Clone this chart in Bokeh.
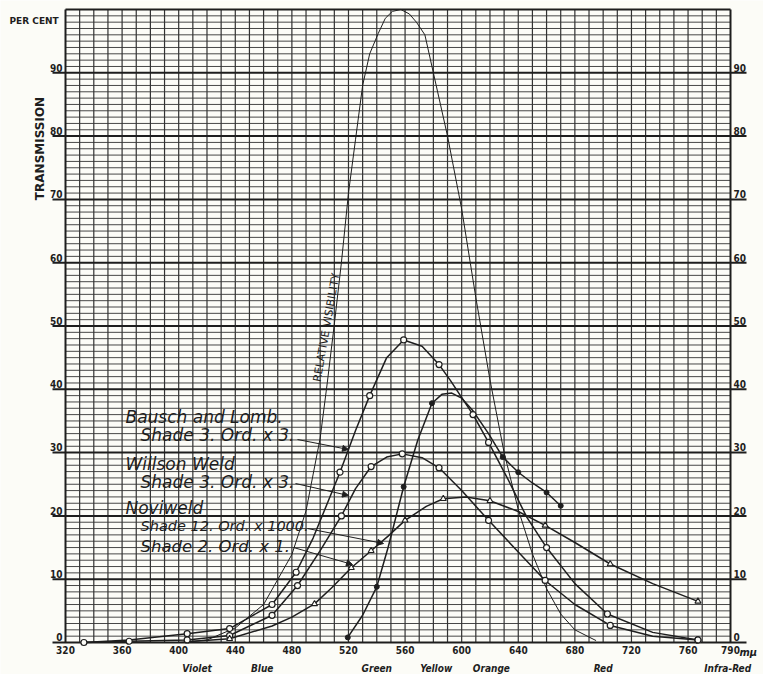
import numpy as np
from bokeh.plotting import figure
from bokeh.models import Range1d, Label, Arrow, NormalHead
from bokeh.embed import file_html
from bokeh.resources import INLINE

# ---------------- data ----------------
wl_ticks = [320, 360, 400, 440, 480, 520, 560, 600, 640, 680, 720, 760, 790]
wl_tick_labels = ["320", "360", "400", "440", "480", "520", "560", "600",
                  "640", "680", "720", "760", "790"]
pct_ticks = [0, 10, 20, 30, 40, 50, 60, 70, 80, 90]
band_names = ["Violet", "Blue", "Green", "Yellow", "Orange", "Red", "Infra-Red"]
band_nm = [413, 459, 540, 582, 621, 700, 788]

# Relative visibility (thin curve, no markers)
vis_nm = [400, 420, 440, 460, 480, 490, 500, 505, 510, 515, 520, 525, 530, 535,
          541, 546, 551, 557, 563, 568, 574, 580, 590, 600, 610, 620, 630, 640,
          650, 660, 670, 680, 695]
vis_val = [0.0, 0.4, 2.3, 6.0, 13.9, 20.8, 32.3, 41.0, 50.3, 60.0, 71.0, 79.5,
           88.0, 93.0, 96.2, 98.6, 99.7, 100.0, 99.3, 98.0, 96.0, 90.0, 80.0,
           68.5, 54.5, 41.5, 30.0, 21.0, 14.0, 8.5, 4.5, 2.0, 0.3]

# Bausch and Lomb, Shade 3 (open circles)
bl_nm = [333, 365, 406, 436, 466, 483, 495, 506, 514, 525, 535, 547, 559, 572,
         584, 592, 608, 619, 632, 646, 660, 680, 703, 735, 767]
bl_val = [0.0, 0.4, 1.4, 2.2, 6.0, 11.1, 16.5, 22.5, 26.9, 33.5, 39.0, 45.0,
          47.8, 46.8, 43.9, 41.4, 36.0, 31.6, 26.1, 19.8, 15.0, 9.3, 4.5, 1.6, 0.4]
bl_marks = [406, 436, 466, 483, 514, 535, 559, 584, 608, 619, 660, 703, 767]

# Willson Weld, Shade 3 (open circles)
ww_nm = [333, 365, 406, 436, 466, 484, 500, 515, 525, 536, 547, 558, 572, 584,
         600, 619, 640, 659, 680, 705, 735, 767]
ww_val = [0.0, 0.2, 0.4, 1.1, 4.3, 9.0, 14.5, 20.0, 24.3, 27.8, 29.3, 29.8,
          29.2, 27.6, 24.0, 19.3, 14.3, 9.8, 6.0, 2.7, 1.0, 0.4]
ww_marks = [333, 365, 406, 436, 466, 484, 515, 536, 558, 584, 619, 659, 705, 767]

# Noviweld, Shade 12 (filled dots)
n12_nm = [519.5, 530, 540, 548, 559, 569, 579, 586, 593, 600, 608, 619, 629,
          640, 650, 660, 670]
n12_val = [0.8, 4.3, 8.8, 15.0, 24.6, 32.0, 37.8, 39.2, 39.4, 38.6, 36.6, 33.0,
           29.3, 26.9, 25.2, 23.7, 21.6]
n12_marks = [519.5, 540, 559, 579, 629, 640, 660, 670]

# Noviweld, Shade 2 (triangles)
n2_nm = [406, 436, 466, 480, 496, 508, 522, 536, 548, 560, 575, 587, 603, 620,
         640, 659, 680, 705, 735, 767]
n2_val = [0.1, 0.6, 2.6, 4.0, 6.1, 8.6, 11.8, 14.5, 16.8, 19.3, 21.5, 22.7,
          23.0, 22.4, 20.7, 18.5, 15.8, 12.4, 9.3, 6.5]
n2_marks = [436, 496, 522, 536, 560, 587, 620, 659, 705, 767]

# ---------------- layout ----------------
ORIGIN = 0                       # canvas starts at the page's top-left corner
W, H = 763, 674
PX_L, PX_R, PY_T, PY_B = 65, 730, 9, 642          # page pixels of 320/790 nm, 100/0 %
SX = (PX_R - PX_L) / (790 - 320)
SY = (PY_B - PY_T) / 100.0


def nx(X):
    return 320 + (X - PX_L) / SX


def ny(Y):
    return (PY_B - Y) / SY


BG = "#fcfcf7"
INK = "#1e1e1e"
GRID = "#333333"

p = figure(width=W, height=H,
           x_range=Range1d(nx(ORIGIN), nx(ORIGIN + W)),
           y_range=Range1d(ny(ORIGIN + H), ny(ORIGIN)),
           output_backend="svg", toolbar_location=None,
           x_axis_location=None, y_axis_location=None, min_border=0,
           outline_line_color=None, background_fill_color=BG, border_fill_color=BG)
p.grid.visible = False

# grid
vx = np.arange(330, 790, 10)
p.segment(x0=vx, y0=0, x1=vx, y1=100, line_color=GRID, line_width=1.2)
hminor = np.array([v for v in range(1, 100) if v % 10])
p.segment(x0=320, y0=hminor, x1=790, y1=hminor, line_color=GRID, line_width=0.9)
hmajor = np.arange(0, 100, 10)
p.segment(x0=nx(52), y0=hmajor, x1=nx(746), y1=hmajor, line_color=INK, line_width=2)
p.segment(x0=[320, 790], y0=0, x1=[320, 790], y1=100, line_color=INK, line_width=2)
p.segment(x0=320, y0=100, x1=790, y1=100, line_color=INK, line_width=2)

# curves
p.line(vis_nm, vis_val, line_color=INK, line_width=1.0)
for xs, ys in [(bl_nm, bl_val), (ww_nm, ww_val), (n12_nm, n12_val), (n2_nm, n2_val)]:
    p.line(xs, ys, line_color=INK, line_width=1.5)


def pick(xs, ys, marks):
    d = dict(zip(xs, ys))
    return list(marks), [d[m] for m in marks]


mx, my = pick(bl_nm, bl_val, bl_marks)
p.scatter(mx, my, marker="circle", size=6, fill_color=BG, line_color=INK, line_width=1.2)
mx, my = pick(ww_nm, ww_val, ww_marks)
p.scatter(mx, my, marker="circle", size=6, fill_color=BG, line_color=INK, line_width=1.2)
mx, my = pick(n12_nm, n12_val, n12_marks)
p.scatter(mx, my, marker="circle", size=5, fill_color=INK, line_color=INK)
mx, my = pick(n2_nm, n2_val, n2_marks)
p.scatter(mx, my, marker="triangle", size=6, fill_color=BG, line_color=INK, line_width=1.1)

TICKF = "DejaVu Sans Condensed"


def lab(x, y, text, **kw):
    opts = dict(text_font=TICKF, text_font_size="10px", text_font_style="bold",
                text_color=INK)
    opts.update(kw)
    p.add_layout(Label(x=x, y=y, text=text, **opts))


# y tick labels (both sides), sitting on the major lines
for v in pct_ticks:
    lab(nx(62), v + 1.2 / SY, str(v), text_align="right", text_baseline="bottom")
    lab(nx(733), v + 1.2 / SY, str(v), text_align="left", text_baseline="bottom")

# x tick labels
for v, t in zip(wl_ticks, wl_tick_labels):
    lab(v, ny(645), t, text_align="center", text_baseline="top")
lab(nx(739), ny(645), "mμ", text_align="left", text_baseline="top",
    text_font_style="bold italic", text_font_size="11px")

for v, t in zip(band_nm, band_names):
    lab(v, ny(662), t, text_align="center", text_baseline="top",
        text_font_style="bold italic")

lab(nx(9), ny(15), "PER CENT", text_align="left", text_baseline="top",
    text_font="DejaVu Sans", text_font_size="9px")
lab(nx(39), ny(148), "TRANSMISSION", text_align="center", text_baseline="middle",
    text_font="DejaVu Sans", text_font_size="12px", angle=90, angle_units="deg")
lab(nx(326), ny(327), "RELATIVE VISIBILITY", text_align="center",
    text_baseline="middle", text_font="DejaVu Sans", text_font_style="normal",
    text_font_size="11px", angle=80, angle_units="deg")

# handwritten legend notes
notes = [("Bausch and Lomb.", 125, 406, "17px"), ("Shade 3. Ord. x 3.", 140, 424, "17px"),
         ("Willson Weld", 125, 453, "17px"), ("Shade 3. Ord. x 3.", 140, 471, "17px"),
         ("Noviweld", 125, 497, "17px"), ("Shade 12. Ord. x 1000.", 140, 517, "14.5px"),
         ("Shade 2. Ord. x 1.", 140, 536, "16.5px")]
for t, X, Y, fs in notes:
    lab(nx(X), ny(Y), t, text_font="DejaVu Sans", text_font_style="italic",
        text_font_size=fs, text_align="left", text_baseline="top")

arrows = [((297, 439), (348, 449)), ((295, 483), (348, 495)),
          ((307, 528), (383, 543)), ((293, 547), (352, 564))]
for (X0, Y0), (X1, Y1) in arrows:
    p.add_layout(Arrow(x_start=nx(X0), y_start=ny(Y0), x_end=nx(X1), y_end=ny(Y1),
                       line_color=INK, line_width=1,
                       end=NormalHead(size=6, fill_color=INK, line_color=INK)))

open("out.html", "w").write(file_html(p, INLINE))
